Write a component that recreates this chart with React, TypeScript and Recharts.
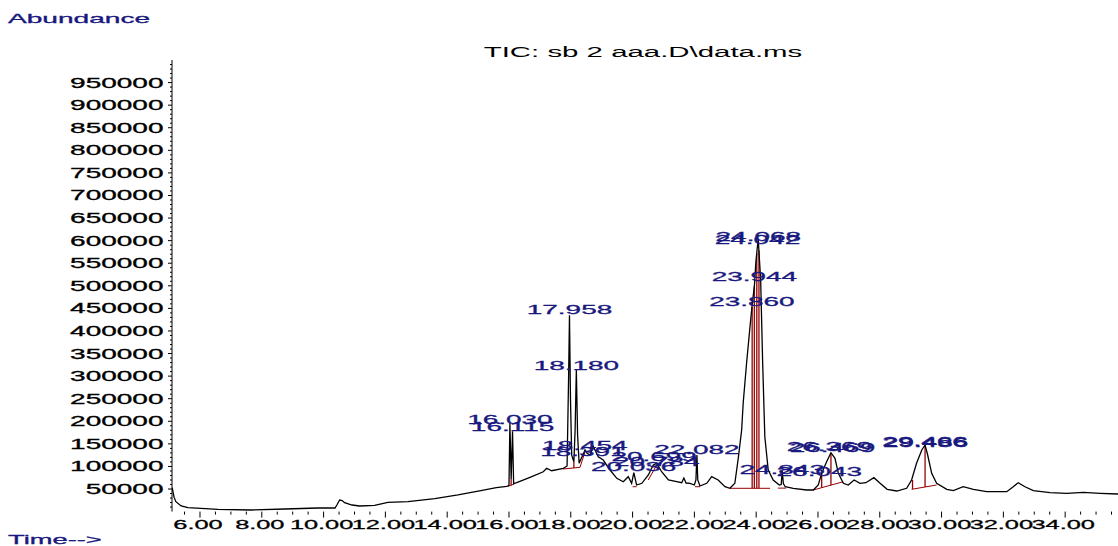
import React from 'react'
import {
  ComposedChart,
  Line,
  Scatter,
  XAxis,
  YAxis,
  ReferenceLine,
} from 'recharts'

// retention time (min) and abundance of the TIC trace
const retTime = [
  5.1, 5.16, 5.22, 5.39, 5.61, 6.03, 6.58, 7.65, 8.75, 9.82, 10.37, 10.43, 10.52, 10.6, 10.68,
  10.92, 11.17, 11.65, 12.08, 12.73, 13.6, 14.35, 15.09, 15.59, 15.93, 16.0, 16.03, 16.07, 16.115,
  16.15, 16.25, 16.68, 17.11, 17.22, 17.38, 17.76, 17.88, 17.93, 17.958, 17.99, 18.03, 18.1, 18.14,
  18.18, 18.22, 18.27, 18.34, 18.395, 18.46, 18.53, 18.62, 18.73, 18.81, 18.89, 19.05, 19.27, 19.49,
  19.7, 19.86, 19.97, 20.04, 20.13, 20.3, 20.51, 20.67, 20.78, 20.94, 21.16, 21.43, 21.59, 21.66,
  21.73, 21.86, 22.0, 22.05, 22.082, 22.11, 22.18, 22.4, 22.56, 22.77, 22.99, 23.15, 23.31, 23.42,
  23.53, 23.58, 23.69, 23.8, 23.86, 23.945, 23.99, 24.045, 24.068, 24.145, 24.21, 24.28, 24.39,
  24.55, 24.75, 24.81, 24.843, 24.88, 24.94, 25.2, 25.63, 25.85, 26.01, 26.12, 26.28, 26.42, 26.55,
  26.66, 26.82, 26.98, 27.17, 27.36, 27.55, 27.81, 28.01, 28.24, 28.55, 28.87, 29.03, 29.19, 29.36,
  29.466, 29.55, 29.68, 29.84, 30.17, 30.38, 30.7, 31.03, 31.46, 32.11, 32.32, 32.48, 32.7, 32.97,
  33.51, 34.05, 34.59, 35.13, 35.71,
]
const abundance = [
  53000, 32000, 22000, 12400, 8600, 7300, 5100, 3500, 5800, 8000, 8000, 14600, 25700, 24600, 19700,
  14600, 12400, 13900, 20600, 21900, 28600, 36800, 46300, 52900, 56000, 58000, 196000, 72000, 178000,
  62000, 64000, 75900, 88300, 95900, 90500, 95900, 101000, 300000, 435000, 250000, 125000, 110500, 180000,
  313500, 170000, 107000, 118000, 125300, 136400, 129000, 125300, 143700, 132600, 121500, 114200, 92100, 73700,
  66200, 77300, 62700, 86100, 58900, 62700, 81000, 103200, 106900, 88300, 70000, 66200, 64000, 74400,
  63300, 62700, 58900, 70000, 125300, 70000, 56700, 62700, 77300, 70000, 55100, 51600, 62700, 118000,
  180700, 240400, 329000, 409400, 450800, 501700, 552600, 590300, 601300, 513200, 329000, 165800, 92100,
  70000, 58900, 60000, 90000, 62000, 55100, 51600, 47800, 47800, 58900, 84800, 110500, 130400, 118000,
  84800, 62700, 58900, 70000, 62700, 64000, 75100, 62700, 49400, 45600, 51600, 70000, 106900, 136400,
  147500, 125300, 84800, 62700, 49400, 46300, 55100, 49400, 44100, 44100, 55100, 64000, 55100, 46300,
  41800, 40500, 42700, 40500, 39000,
]

// integrated peak labels: time text and label anchor abundance
const peakNames = [
  '16.030', '16.115', '17.958', '18.180', '18.454', '18.391', '20.699', '20.784', '20.036', '22.082',
  '24.068', '24.042', '23.944', '23.860', '24.843', '26.043', '26.369', '26.469', '29.466', '29.486',
]
const peakAnchor = [
  194600, 179100, 438100, 314200, 137000, 123800, 112700, 101600, 90600, 128200,
  599800, 593100, 511200, 455900, 83900, 79500, 134800, 132600, 145900, 143700,
]

// integration baselines [t1, a1, t2, a2]
const baselines = [
  [15.97, 56000, 16.17, 61000],
  [17.757, 94300, 18.298, 98000],
  [18.298, 98000, 18.46, 132000],
  [20.0, 55100, 20.13, 55100],
  [20.508, 70000, 20.78, 103200],
  [22.02, 55100, 22.18, 55100],
  [23.152, 51600, 24.45, 51600],
  [24.7, 52000, 24.97, 52000],
  [25.848, 47800, 26.819, 66200],
  [29.032, 49400, 29.84, 58900],
]
// drop lines [t, from, to]
const dropLines = [
  [16.07, 58000, 72000],
  [18.1, 96500, 110500],
  [23.87, 51600, 453000],
  [23.94, 51600, 499000],
  [24.02, 51600, 572000],
  [24.09, 51600, 578000],
  [26.12, 53000, 84800],
  [26.42, 58600, 130000],
  [29.06, 49900, 70000],
  [29.466, 54600, 147000],
]

const xTicks: number[] = []
for (let t = 5.5; t <= 35.5; t += 0.5) xTicks.push(t)
const yTicks: number[] = []
for (let v = 10000; v <= 990000; v += 10000) yTicks.push(v)

const data = retTime.map((t, i) => ({ t, v: abundance[i] }))
const peaks = peakNames.map((name, i) => ({ t: parseFloat(name), a: peakAnchor[i], name }))

const FONT = '"Liberation Sans", Arial, sans-serif'
const BLUE = '#18187e'
const RED = '#980000'

const XTick = (props: any) => {
  const { x, y, payload } = props
  const v = payload.value
  const major = Math.abs(v - Math.round(v)) < 1e-6 && Math.round(v) % 2 === 0
  return (
    <g>
      <line x1={x} x2={x} y1={y} y2={y + (major ? 6 : 3)} stroke="#000" strokeWidth={1} />
      {major && (
        <text
          transform={`translate(${x - 2},${y + 17.7}) scale(1.95,1)`}
          textAnchor="middle"
          fontSize={13}
          fontFamily={FONT}
          fill="#000"
          stroke="#000"
          strokeWidth={0.3}
        >
          {v.toFixed(2)}
        </text>
      )}
    </g>
  )
}

const YTick = (props: any) => {
  const { x, y, payload } = props
  const v = payload.value
  const major = v % 50000 === 0
  return (
    <g>
      <line x1={x - (major ? 4 : 2)} x2={x} y1={y} y2={y} stroke="#000" strokeWidth={1} />
      {major && (
        <text
          transform={`translate(${x - 8.5},${y + 5}) scale(2,1)`}
          textAnchor="end"
          fontSize={14}
          fontFamily={FONT}
          fill="#000"
          stroke="#000"
          strokeWidth={0.3}
        >
          {v}
        </text>
      )}
    </g>
  )
}

const PeakLabel = (props: any) => {
  const { cx, cy, payload } = props
  return (
    <text
      transform={`translate(${cx},${cy}) scale(2.15,1)`}
      textAnchor="middle"
      fontSize={13}
      fontFamily={FONT}
      fill={BLUE}
      stroke={BLUE}
      strokeWidth={0.3}
    >
      {payload.name}
    </text>
  )
}

export default function App() {
  return (
    <div style={{ position: 'absolute', left: 0, top: 0, width: 1118, height: 546, background: '#fff' }}>
      <svg
        width={1118}
        height={546}
        style={{ position: 'absolute', left: 0, top: 0, pointerEvents: 'none' }}
      >
        <text transform="translate(8,22.5) scale(2.16,1)" fontSize={13} fontFamily={FONT} fill={BLUE} stroke={BLUE} strokeWidth={0.3}>
          Abundance
        </text>
        <text transform="translate(643,57) scale(2.1,1)" textAnchor="middle" fontSize={14} fontFamily={FONT} fill="#000">
          {'TIC: sb 2 aaa.D\\data.ms'}
        </text>
        <text transform="translate(8,544) scale(2.1,1)" fontSize={13} fontFamily={FONT} fill={BLUE} stroke={BLUE} strokeWidth={0.3}>
          {'Time-->'}
        </text>
      </svg>
      <ComposedChart
        width={1118}
        height={546}
        data={data}
        margin={{ top: 60, right: 0, bottom: 0, left: 0 }}
        style={{ position: 'absolute', left: 0, top: 0 }}
      >
        <XAxis
          dataKey="t"
          type="number"
          domain={[5.094, 35.71]}
          allowDataOverflow
          ticks={xTicks}
          interval={0}
          height={34.4}
          axisLine={false}
          tickLine={false}
          tickSize={0}
          tickMargin={0}
          tick={<XTick />}
        />
        <YAxis
          type="number"
          domain={[0, 1000000]}
          allowDataOverflow
          ticks={yTicks}
          interval={0}
          width={172}
          axisLine={{ stroke: '#000', strokeWidth: 1 }}
          tickLine={false}
          tickSize={0}
          tickMargin={0}
          tick={<YTick />}
        />
        {baselines.map((b, i) => (
          <ReferenceLine
            key={'b' + i}
            segment={[{ x: b[0], y: b[1] }, { x: b[2], y: b[3] }]}
            stroke={RED}
            strokeWidth={1}
            ifOverflow="visible"
          />
        ))}
        {dropLines.map((d, i) => (
          <ReferenceLine
            key={'d' + i}
            segment={[{ x: d[0], y: d[1] }, { x: d[0], y: d[2] }]}
            stroke={RED}
            strokeWidth={1.3}
            ifOverflow="visible"
          />
        ))}
        <Line
          type="linear"
          dataKey="v"
          stroke="#000"
          strokeWidth={1.3}
          dot={false}
          isAnimationActive={false}
        />
        <Scatter
          data={peaks}
          dataKey="a"
          shape={<PeakLabel />}
          isAnimationActive={false}
        />
      </ComposedChart>
    </div>
  )
}
